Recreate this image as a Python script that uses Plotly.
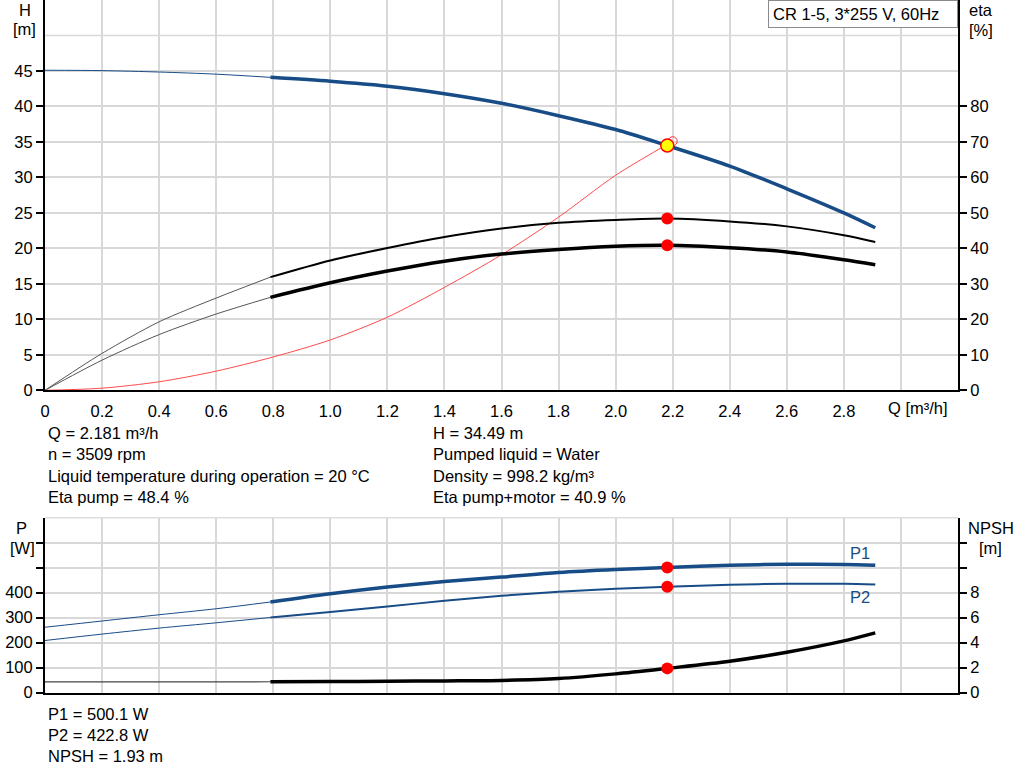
import plotly.graph_objects as go

# flow points (m³/h): thin start segment and the main (thick) segment
q_low = [0, 0.2, 0.4, 0.6, 0.79]
q_main = [0.79, 1.0, 1.2, 1.4, 1.6, 1.8, 2.0, 2.181, 2.4, 2.6, 2.8, 2.91]

# head [m]
h_low = [45.1, 45.05, 44.85, 44.55, 44.1]
h_main = [44.1, 43.55, 42.85, 41.8, 40.45, 38.7, 36.75, 34.49, 31.6, 28.4, 25.0, 22.9]

# efficiencies [%]
eta_pump_low = [0, 10.4, 19.3, 26.0, 31.9]
eta_pump_main = [31.9, 36.6, 40.1, 43.2, 45.6, 47.2, 48.0, 48.4, 47.6, 46.2, 43.7, 41.8]
eta_tot_low = [0, 8.5, 15.7, 21.5, 26.2]
eta_tot_main = [26.2, 30.3, 33.6, 36.4, 38.4, 39.7, 40.6, 40.9, 40.2, 39.0, 36.8, 35.4]

# system curve
q_sys = [0, 0.2, 0.4, 0.6, 0.8, 1.0, 1.2, 1.4, 1.6, 1.8, 2.0, 2.2]
h_sys = [0, 0.3, 1.2, 2.7, 4.7, 7.1, 10.3, 14.5, 19.1, 24.4, 30.3, 35.1]

# power [W] and NPSH [m]
p1_low = [261, 286, 311, 335, 362]
p1_main = [362, 395, 421.6, 444, 461.6, 480, 492, 500.1, 509, 513, 512, 509]
p2_low = [208, 233.6, 257.6, 278.8, 300]
p2_main = [300, 321.6, 344, 366.8, 386.8, 402.8, 414.8, 422.8, 431, 435, 435, 432]
npsh_low = [0.85, 0.85, 0.85, 0.85, 0.86]
npsh_main = [0.86, 0.88, 0.9, 0.93, 0.97, 1.12, 1.49, 1.93, 2.5, 3.22, 4.13, 4.77]

# duty point
q_op = 2.181
h_op = 34.49
eta_pump_op = 48.4
eta_tot_op = 40.9
p1_op = 500.1
p2_op = 422.8
npsh_op = 1.93
q_sys_end = 2.2
h_sys_end = 35.1

x_ticks = [0, 0.2, 0.4, 0.6, 0.8, 1.0, 1.2, 1.4, 1.6, 1.8, 2.0, 2.2, 2.4, 2.6, 2.8, 3.0]
x_labels = ["0", "0.2", "0.4", "0.6", "0.8", "1.0", "1.2", "1.4", "1.6", "1.8",
            "2.0", "2.2", "2.4", "2.6", "2.8", ""]

info_left = ["Q = 2.181 m³/h", "n = 3509 rpm",
             "Liquid temperature during operation = 20 °C", "Eta pump = 48.4 %"]
info_right = ["H = 34.49 m", "Pumped liquid = Water",
              "Density = 998.2 kg/m³", "Eta pump+motor = 40.9 %"]
info_bottom = ["P1 = 500.1 W", "P2 = 422.8 W", "NPSH = 1.93 m"]

W, H = 1024, 781
BLUE = "#184c86"
FONT = "Liberation Sans, Arial, sans-serif"
FS = 16.5


def px(x):
    return x / W


def py(y):
    return 1 - y / H


fig = go.Figure()


def line(x, y, xa, ya, color, width, smooth=0.8):
    fig.add_trace(go.Scatter(x=x, y=y, xaxis=xa, yaxis=ya, mode="lines",
                             line=dict(color=color, width=width, shape="spline",
                                       smoothing=smooth),
                             hoverinfo="skip", showlegend=False))


# top panel
line(q_sys, h_sys, "x", "y", "#ff4a4a", 1)
line(q_low, h_low, "x", "y", BLUE, 1)
line(q_main, h_main, "x", "y", BLUE, 3.5)
line(q_low, eta_pump_low, "x", "y2", "#555555", 1)
line(q_main, eta_pump_main, "x", "y2", "black", 2)
line(q_low, eta_tot_low, "x", "y2", "#555555", 1)
line(q_main, eta_tot_main, "x", "y2", "black", 3.5)

fig.add_trace(go.Scatter(x=[q_sys_end], y=[h_sys_end], xaxis="x", yaxis="y", mode="markers",
                         marker=dict(symbol="circle-open", size=9, color="#ff3030",
                                     line=dict(width=1)),
                         hoverinfo="skip", showlegend=False))
fig.add_trace(go.Scatter(x=[q_op], y=[h_op], xaxis="x", yaxis="y", mode="markers",
                         marker=dict(size=13, color="#ffff00", line=dict(color="red", width=1.5)),
                         hoverinfo="skip", showlegend=False))
fig.add_trace(go.Scatter(x=[q_op, q_op], y=[eta_pump_op, eta_tot_op], xaxis="x", yaxis="y2",
                         mode="markers", marker=dict(size=12, color="red"),
                         hoverinfo="skip", showlegend=False))

# bottom panel
line(q_low, p1_low, "x2", "y3", BLUE, 1)
line(q_main, p1_main, "x2", "y3", BLUE, 3.5)
line(q_low, p2_low, "x2", "y3", BLUE, 1)
line(q_main, p2_main, "x2", "y3", BLUE, 2)
line(q_low, npsh_low, "x2", "y4", "#444444", 1.2, 0)
line(q_main, npsh_main, "x2", "y4", "black", 3.5)
fig.add_trace(go.Scatter(x=[q_op, q_op], y=[p1_op, p2_op], xaxis="x2", yaxis="y3",
                         mode="markers", marker=dict(size=12, color="red"),
                         hoverinfo="skip", showlegend=False))
fig.add_trace(go.Scatter(x=[q_op], y=[npsh_op], xaxis="x2", yaxis="y4",
                         mode="markers", marker=dict(size=12, color="red"),
                         hoverinfo="skip", showlegend=False))

grid = "#d8d8d8"
tickfont = dict(family=FONT, size=FS, color="black")
x_dom = [px(45), px(958)]
top_dom = [py(390.3), 1.0]
bot_dom = [py(692.5), py(517.5)]

common_y = dict(showline=True, linecolor="black", linewidth=2, ticks="outside",
                ticklen=7, tickcolor="black", tickwidth=1.5, tickfont=tickfont,
                zeroline=False, automargin=False)

fig.update_layout(
    width=W, height=H, autosize=False,
    margin=dict(l=0, r=0, t=0, b=0, pad=0),
    paper_bgcolor="white", plot_bgcolor="white",
    font=dict(family=FONT, size=FS, color="black"),
    xaxis=dict(domain=x_dom, range=[0, 3.2], anchor="y", tickvals=x_ticks, ticktext=x_labels,
               showgrid=True, gridcolor=grid, gridwidth=1.5, showline=True,
               linecolor="black", linewidth=2, ticks="outside", ticklen=5,
               tickcolor="rgba(0,0,0,0)", tickfont=tickfont, zeroline=False,
               automargin=False),
    yaxis=dict(domain=top_dom, range=[0, 55], anchor="x",
               tickvals=[0, 5, 10, 15, 20, 25, 30, 35, 40, 45],
               showgrid=True, gridcolor=grid, gridwidth=1.5, **common_y),
    yaxis2=dict(range=[0, 110], overlaying="y", side="right", anchor="x",
                tickvals=[0, 10, 20, 30, 40, 50, 60, 70, 80], showgrid=False, **common_y),
    xaxis2=dict(domain=x_dom, range=[0, 3.2], anchor="y3", tickvals=x_ticks,
                showticklabels=False, showgrid=True, gridcolor=grid, gridwidth=1.5,
                showline=True, linecolor="black", linewidth=2, ticks="", zeroline=False,
                automargin=False),
    yaxis3=dict(domain=bot_dom, range=[0, 700], anchor="x2",
                tickvals=[0, 100, 200, 300, 400, 500, 600],
                ticktext=["0", "100", "200", "300", "400", "", ""],
                showgrid=True, gridcolor=grid, gridwidth=1.5, **common_y),
    yaxis4=dict(range=[0, 14], overlaying="y3", side="right", anchor="x2",
                tickvals=[0, 2, 4, 6, 8, 10, 12],
                ticktext=["0", "2", "4", "6", "8", "", ""], showgrid=False, **common_y),
)

# extra gridlines without ticks
fig.add_shape(type="line", xref="x", yref="y", x0=0, x1=3.2, y0=50, y1=50,
              line=dict(color=grid, width=1.5), layer="below")
fig.add_shape(type="line", xref="x2", yref="y3", x0=0, x1=3.2, y0=700, y1=700,
              line=dict(color="#bdbdbd", width=1.5), layer="below")


def text(x, y, s, color="black", xanchor="left"):
    fig.add_annotation(x=px(x), y=py(y), xref="paper", yref="paper", text=s,
                       showarrow=False, xanchor=xanchor, yanchor="middle",
                       font=dict(family=FONT, size=FS, color=color))


# axis titles
text(25, 10, "H", xanchor="center")
text(24, 29, "[m]", xanchor="center")
text(981, 10, "eta", xanchor="center")
text(981, 30, "[%]", xanchor="center")
text(918, 408, "Q [m³/h]", xanchor="center")
text(21, 528, "P", xanchor="center")
text(22, 548, "[W]", xanchor="center")
text(991, 528, "NPSH", xanchor="center")
text(990, 548, "[m]", xanchor="center")

# title box
fig.add_annotation(x=px(958), y=1.0, xref="paper", yref="paper", text="CR 1-5, 3*255 V, 60Hz",
                   showarrow=False, xanchor="right", yanchor="top", align="left",
                   width=180, height=18, borderpad=4, bordercolor="#8a8a8a", borderwidth=1,
                   bgcolor="white", font=dict(family=FONT, size=FS, color="black"))

# curve labels
fig.add_annotation(x=2.855, y=558, xref="x2", yref="y3", text="P1", showarrow=False,
                   xanchor="center", font=dict(family=FONT, size=FS, color=BLUE))
fig.add_annotation(x=2.855, y=382, xref="x2", yref="y3", text="P2", showarrow=False,
                   xanchor="center", font=dict(family=FONT, size=FS, color=BLUE))

# duty point info
for i, s in enumerate(info_left):
    text(46, 433 + i * 21.4, s)
for i, s in enumerate(info_right):
    text(431, 433 + i * 21.4, s)
for i, s in enumerate(info_bottom):
    text(46, 714 + i * 21.2, s)

fig.write_html("out.html", config={"displayModeBar": False},
               post_script="document.body.style.margin='0';document.body.style.overflow='hidden';")
